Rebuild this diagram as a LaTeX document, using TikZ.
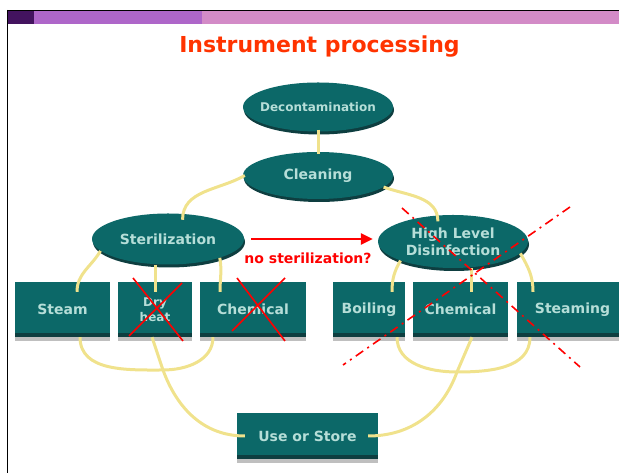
\documentclass[tikz,border=0pt]{standalone}
\usepackage{fontspec}
\setmainfont{DejaVu Sans}
\usetikzlibrary{shapes.geometric,shadows,arrows.meta}

\definecolor{tealfill}{RGB}{12,104,104}
\definecolor{tealdark}{RGB}{14,62,64}
\definecolor{tealtext}{RGB}{182,222,216}
\definecolor{linkyellow}{RGB}{240,226,140}
\definecolor{titlered}{RGB}{255,51,0}
\definecolor{barone}{RGB}{67,19,95}
\definecolor{bartwo}{RGB}{174,102,201}
\definecolor{barthree}{RGB}{211,139,199}

\newcommand{\slim}[1]{\makebox[0pt]{#1}}

\tikzset{
  stage/.style={ellipse, fill=tealfill, minimum width=150pt, minimum height=49pt, inner sep=0pt,
    text=tealtext, font=\fontsize{14}{17}\selectfont\bfseries, align=center,
    drop shadow={shadow xshift=1pt, shadow yshift=-3pt, fill=tealdark, opacity=1}},
  method/.style={rectangle, fill=tealfill, minimum height=55pt, inner sep=0pt,
    text=tealtext, font=\fontsize{14}{17}\selectfont\bfseries, align=center,
    path picture={\fill[tealdark] (path picture bounding box.south west) rectangle ([yshift=4pt]path picture bounding box.south east);},
    drop shadow={shadow xshift=0pt, shadow yshift=-4pt, fill=black!25, opacity=1}},
  link/.style={linkyellow, line width=3pt},
  cross/.style={red, line width=1.6pt},
  ghost/.style={red, line width=1.6pt, dash pattern=on 9pt off 5pt on 2pt off 5pt},
}

\begin{document}
\begin{tikzpicture}[x=1pt,y=1pt]
  \useasboundingbox (0,0) rectangle (619,473);

  % FRAME
  \fill[barone] (8,449) rectangle (34,462);
  \fill[bartwo] (34,449) rectangle (202,462);
  \fill[barthree] (202,449) rectangle (619,462);
  \draw[line width=1.2pt] (7,462.5) -- (619,462.5);
  \draw[line width=1.2pt] (7.5,463) -- (7.5,0);

  \node[anchor=base, text=titlered, font=\fontsize{22}{26}\selectfont\bfseries] (title) at (319.5,420) {Instrument processing};

  % STAGES
  \node[stage] (decon) at (318,366) {\slim{\fontsize{12}{14}\selectfont Decontamination}};
  \node[stage, minimum height=47pt] (clean) at (318,297.5) {Cleaning};
  \node[stage, minimum width=152pt, minimum height=51pt] (steril) at (168,234) {Sterilization};
  \node[stage, minimum height=53pt] (hld) at (453,231.5) {\slim{High Level}\\\slim{Disinfection}};

  % METHODS
  \node[method, minimum width=95pt] (steam) at (62.5,163.5) {Steam};
  \node[method, minimum width=74pt, font=\fontsize{12}{15}\selectfont\bfseries] (dry) at (155,163.5) {Dry\\heat};
  \node[method, minimum width=106pt] (chem) at (253,163.5) {Chemical};
  \node[method, minimum width=72pt] (boil) at (369,163.5) {Boiling};
  \node[method, minimum width=95pt] (chemb) at (460.5,163.5) {Chemical};
  \node[method, minimum width=111pt] (steaming) at (572.5,163.5) {Steaming};
  \node[method, minimum width=141pt, minimum height=46pt] (use) at (307.5,37) {Use or Store};

  \coordinate (lowleft) at (163,103);
  \coordinate (lowright) at (457,101);

  % LINKS
  \draw[link] ([yshift=2pt]decon.south) -- ([yshift=-2pt]clean.north);
  \draw[link] ([xshift=2pt]clean.west) to[out=210,in=90] ([yshift=-6pt]steril.60);
  \draw[link] (clean.-10) to[out=-20,in=90] ([yshift=-6pt]hld.120);

  \draw[link] (steril.190) to[out=240,in=90] ([xshift=14.5pt,yshift=-10pt]steam.north);
  \draw[link] (dry.north |- steril.south) -- ([yshift=-10pt]dry.north);
  \draw[link] (steril.-20) to[out=-80,in=90] ([xshift=-33pt,yshift=-10pt]chem.north);

  \draw[link] (hld.200) to[out=240,in=90] ([xshift=23pt,yshift=-10pt]boil.north);
  \draw[link] ([xshift=11pt]chemb.north |- hld.south) -- ([xshift=11pt,yshift=-10pt]chemb.north);
  \draw[link] (hld.-10) to[out=-60,in=90] ([xshift=-39.5pt,yshift=-10pt]steaming.north);

  \draw[link] ([xshift=17.5pt]steam.south) to[out=-90,in=180] (lowleft);
  \draw[link] ([xshift=-3pt]dry.south) -- (lowleft);
  \draw[link] ([xshift=-40pt]chem.south) to[out=-90,in=0] (lowleft);
  \draw[link] (lowleft) to[out=-70,in=180] ([xshift=8pt]use.west);

  \draw[link] ([xshift=28pt]boil.south) to[out=-90,in=180] (lowright);
  \draw[link] ([xshift=11.5pt]chemb.south) -- (lowright);
  \draw[link] ([xshift=-42.5pt]steaming.south) to[out=-90,in=0] (lowright);
  \draw[link] (lowright) to[out=-110,in=0] ([xshift=-10pt]use.east);

  % NOTES
  \draw[red, line width=2.5pt, -{Triangle[length=12pt,width=11pt]}, shorten <=7pt, shorten >=5pt]
    (steril.east) -- (steril.east -| hld.west);
  \node[text=red, font=\fontsize{14}{17}\selectfont\bfseries] (nosteril) at (308,215) {no sterilization?};

  % CROSSES
  \draw[cross] (133,195) -- (183,132);
  \draw[cross] (182,190) -- (129,137);
  \draw[cross] (237,195) -- (285,132);
  \draw[cross] (285,195) -- (232,142);
  \draw[ghost] (402,265) -- (580,106);
  \draw[ghost] (570,266) -- (343,108);
\end{tikzpicture}
\end{document}
